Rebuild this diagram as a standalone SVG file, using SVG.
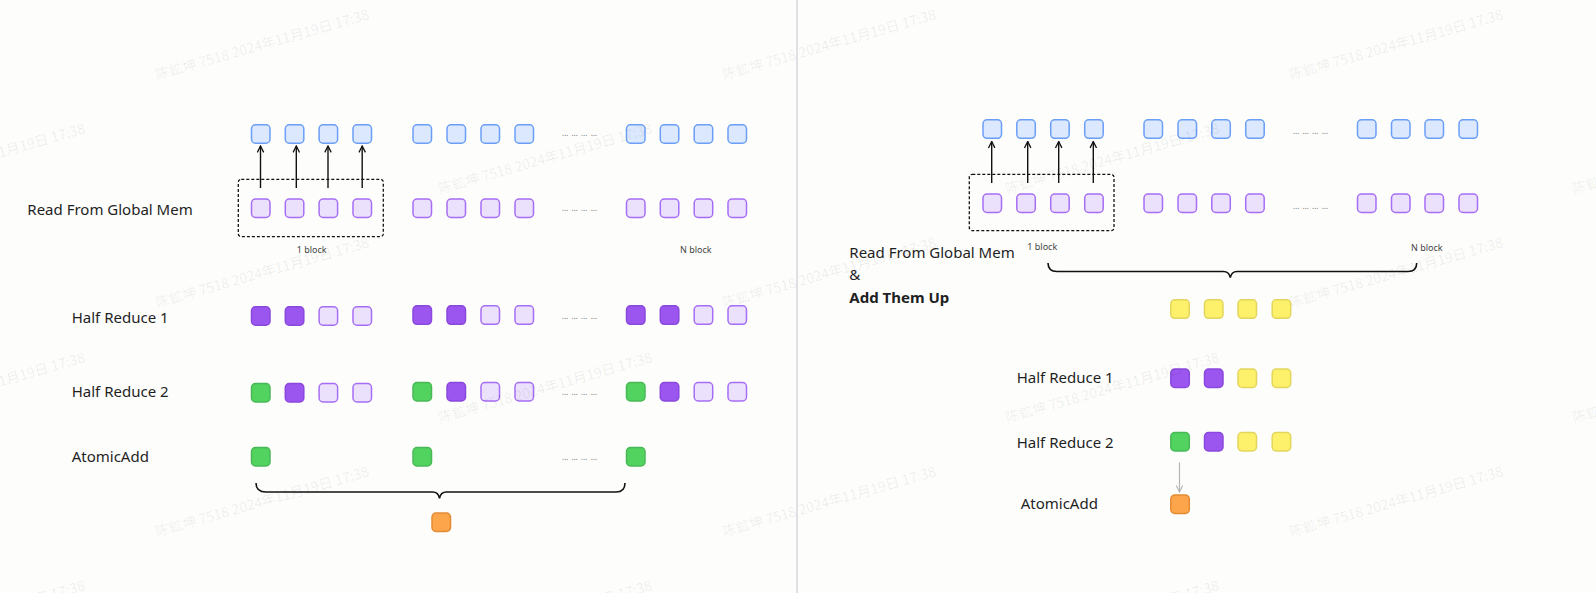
<svg xmlns="http://www.w3.org/2000/svg" width="1596" height="593" viewBox="0 0 1596 593">
<defs>
<style>
.bx{stroke-width:1.5}
.b{fill:#dce8fd;stroke:#6a9ef7}
.p{fill:#ebe1fc;stroke:#a66ef5}
.d{fill:#9a56ef;stroke:#8b48dc}
.g{fill:#52d25e;stroke:#49b957}
.o{fill:#fda54a;stroke:#e38a35}
.y{fill:#fdf16b;stroke:#e2d55d}
.lbl{font-family:"Noto Sans","Liberation Sans",sans-serif;font-size:15px;fill:#1f1f1f}
.bold{font-weight:bold}
.sm{font-family:"Noto Sans","Liberation Sans",sans-serif;font-size:9px;fill:#444}
.dots{font-family:"Noto Sans","Liberation Sans",sans-serif;font-size:8px;fill:#777}
.wm{font-family:"Noto Sans CJK SC","Noto Sans",sans-serif;font-size:14px;fill:#000;fill-opacity:0.07}
.dash{fill:none;stroke:#111;stroke-width:1.3;stroke-dasharray:3 2}
.ar{stroke:#111;stroke-width:1.4;fill:none}
.br{stroke:#111;stroke-width:1.6;fill:none}
</style>
<marker id="ah" viewBox="0 0 10 10" refX="9" refY="5" markerWidth="8" markerHeight="8" markerUnits="userSpaceOnUse" orient="auto"><path d="M1,1 L9,5 L1,9" fill="none" stroke="#111" stroke-width="1.6"/></marker>
<marker id="ahg" viewBox="0 0 10 10" refX="9" refY="5" markerWidth="8" markerHeight="8" markerUnits="userSpaceOnUse" orient="auto"><path d="M1,1 L9,5 L1,9" fill="none" stroke="#b5b5b5" stroke-width="1.4"/></marker>
</defs>
<rect x="0" y="0" width="1596" height="593" fill="#fdfdfc"/>
<line x1="797" y1="0" x2="797" y2="593" stroke="#c4c4cc" stroke-width="1"/>

<g id="labels">
<text class="lbl" x="27.3" y="215">Read From Global Mem</text>
<text class="lbl" x="71.7" y="322.7">Half Reduce 1</text>
<text class="lbl" x="71.7" y="397.3">Half Reduce 2</text>
<text class="lbl" x="71.7" y="461.7">AtomicAdd</text>
<text class="sm" x="296.7" y="253">1 block</text>
<text class="sm" x="680" y="253">N block</text>
<text class="lbl" x="849.3" y="258">Read From Global Mem</text>
<text class="lbl" x="849.3" y="280">&amp;</text>
<text class="lbl bold" x="849.3" y="302.5">Add Them Up</text>
<text class="sm" x="1027.3" y="250">1 block</text>
<text class="sm" x="1411" y="251">N block</text>
<text class="lbl" x="1016.7" y="383.3">Half Reduce 1</text>
<text class="lbl" x="1016.7" y="448.3">Half Reduce 2</text>
<text class="lbl" x="1020.7" y="509.3">AtomicAdd</text>
</g>

<g id="dots">
<text class="dots" x="562" y="136" textLength="35" lengthAdjust="spacing">… … … …</text>
<text class="dots" x="562" y="210.5" textLength="35" lengthAdjust="spacing">… … … …</text>
<text class="dots" x="562" y="318.5" textLength="35" lengthAdjust="spacing">… … … …</text>
<text class="dots" x="562" y="395" textLength="35" lengthAdjust="spacing">… … … …</text>
<text class="dots" x="562" y="459.5" textLength="35" lengthAdjust="spacing">… … … …</text>
<text class="dots" x="1293" y="134" textLength="35" lengthAdjust="spacing">… … … …</text>
<text class="dots" x="1293" y="208.5" textLength="35" lengthAdjust="spacing">… … … …</text>
</g>

<g id="left-block1-frame"><rect class="dash" x="238.3" y="179.3" width="145" height="57.4" rx="3"/></g>
<g id="right-block1-frame"><rect class="dash" x="969.3" y="174.3" width="144.7" height="56.4" rx="3"/></g>

<!-- Left: output row (blue) -->
<g id="L-out-1-1"><rect class="bx b" x="251.5" y="124.75" width="18.5" height="18.5" rx="4"/></g>
<g id="L-out-1-2"><rect class="bx b" x="285.3" y="124.75" width="18.5" height="18.5" rx="4"/></g>
<g id="L-out-1-3"><rect class="bx b" x="319.1" y="124.75" width="18.5" height="18.5" rx="4"/></g>
<g id="L-out-1-4"><rect class="bx b" x="353" y="124.75" width="18.5" height="18.5" rx="4"/></g>
<g id="L-out-2-1"><rect class="bx b" x="413" y="124.75" width="18.5" height="18.5" rx="4"/></g>
<g id="L-out-2-2"><rect class="bx b" x="447" y="124.75" width="18.5" height="18.5" rx="4"/></g>
<g id="L-out-2-3"><rect class="bx b" x="481" y="124.75" width="18.5" height="18.5" rx="4"/></g>
<g id="L-out-2-4"><rect class="bx b" x="515" y="124.75" width="18.5" height="18.5" rx="4"/></g>
<g id="L-out-N-1"><rect class="bx b" x="626.5" y="124.75" width="18.5" height="18.5" rx="4"/></g>
<g id="L-out-N-2"><rect class="bx b" x="660.3" y="124.75" width="18.5" height="18.5" rx="4"/></g>
<g id="L-out-N-3"><rect class="bx b" x="694.2" y="124.75" width="18.5" height="18.5" rx="4"/></g>
<g id="L-out-N-4"><rect class="bx b" x="728" y="124.75" width="18.5" height="18.5" rx="4"/></g>

<!-- Left: read row (light purple) -->
<g id="L-read-1-1"><rect class="bx p" x="251.5" y="199" width="18.5" height="18.5" rx="4"/></g>
<g id="L-read-1-2"><rect class="bx p" x="285.3" y="199" width="18.5" height="18.5" rx="4"/></g>
<g id="L-read-1-3"><rect class="bx p" x="319.1" y="199" width="18.5" height="18.5" rx="4"/></g>
<g id="L-read-1-4"><rect class="bx p" x="353" y="199" width="18.5" height="18.5" rx="4"/></g>
<g id="L-read-2-1"><rect class="bx p" x="413" y="199" width="18.5" height="18.5" rx="4"/></g>
<g id="L-read-2-2"><rect class="bx p" x="447" y="199" width="18.5" height="18.5" rx="4"/></g>
<g id="L-read-2-3"><rect class="bx p" x="481" y="199" width="18.5" height="18.5" rx="4"/></g>
<g id="L-read-2-4"><rect class="bx p" x="515" y="199" width="18.5" height="18.5" rx="4"/></g>
<g id="L-read-N-1"><rect class="bx p" x="626.5" y="199" width="18.5" height="18.5" rx="4"/></g>
<g id="L-read-N-2"><rect class="bx p" x="660.3" y="199" width="18.5" height="18.5" rx="4"/></g>
<g id="L-read-N-3"><rect class="bx p" x="694.2" y="199" width="18.5" height="18.5" rx="4"/></g>
<g id="L-read-N-4"><rect class="bx p" x="728" y="199" width="18.5" height="18.5" rx="4"/></g>

<!-- Left: half reduce 1 -->
<g id="L-hr1-1-1"><rect class="bx d" x="251.5" y="306.75" width="18.5" height="18.5" rx="4"/></g>
<g id="L-hr1-1-2"><rect class="bx d" x="285.3" y="306.75" width="18.5" height="18.5" rx="4"/></g>
<g id="L-hr1-1-3"><rect class="bx p" x="319.1" y="306.75" width="18.5" height="18.5" rx="4"/></g>
<g id="L-hr1-1-4"><rect class="bx p" x="353" y="306.75" width="18.5" height="18.5" rx="4"/></g>
<g id="L-hr1-2-1"><rect class="bx d" x="413" y="305.8" width="18.5" height="18.5" rx="4"/></g>
<g id="L-hr1-2-2"><rect class="bx d" x="447" y="305.8" width="18.5" height="18.5" rx="4"/></g>
<g id="L-hr1-2-3"><rect class="bx p" x="481" y="305.8" width="18.5" height="18.5" rx="4"/></g>
<g id="L-hr1-2-4"><rect class="bx p" x="515" y="305.8" width="18.5" height="18.5" rx="4"/></g>
<g id="L-hr1-N-1"><rect class="bx d" x="626.5" y="305.8" width="18.5" height="18.5" rx="4"/></g>
<g id="L-hr1-N-2"><rect class="bx d" x="660.3" y="305.8" width="18.5" height="18.5" rx="4"/></g>
<g id="L-hr1-N-3"><rect class="bx p" x="694.2" y="305.8" width="18.5" height="18.5" rx="4"/></g>
<g id="L-hr1-N-4"><rect class="bx p" x="728" y="305.8" width="18.5" height="18.5" rx="4"/></g>

<!-- Left: half reduce 2 -->
<g id="L-hr2-1-1"><rect class="bx g" x="251.5" y="383.5" width="18.5" height="18.5" rx="4"/></g>
<g id="L-hr2-1-2"><rect class="bx d" x="285.3" y="383.5" width="18.5" height="18.5" rx="4"/></g>
<g id="L-hr2-1-3"><rect class="bx p" x="319.1" y="383.5" width="18.5" height="18.5" rx="4"/></g>
<g id="L-hr2-1-4"><rect class="bx p" x="353" y="383.5" width="18.5" height="18.5" rx="4"/></g>
<g id="L-hr2-2-1"><rect class="bx g" x="413" y="382.5" width="18.5" height="18.5" rx="4"/></g>
<g id="L-hr2-2-2"><rect class="bx d" x="447" y="382.5" width="18.5" height="18.5" rx="4"/></g>
<g id="L-hr2-2-3"><rect class="bx p" x="481" y="382.5" width="18.5" height="18.5" rx="4"/></g>
<g id="L-hr2-2-4"><rect class="bx p" x="515" y="382.5" width="18.5" height="18.5" rx="4"/></g>
<g id="L-hr2-N-1"><rect class="bx g" x="626.5" y="382.5" width="18.5" height="18.5" rx="4"/></g>
<g id="L-hr2-N-2"><rect class="bx d" x="660.3" y="382.5" width="18.5" height="18.5" rx="4"/></g>
<g id="L-hr2-N-3"><rect class="bx p" x="694.2" y="382.5" width="18.5" height="18.5" rx="4"/></g>
<g id="L-hr2-N-4"><rect class="bx p" x="728" y="382.5" width="18.5" height="18.5" rx="4"/></g>

<!-- Left: atomic add -->
<g id="L-aa-1"><rect class="bx g" x="251.5" y="447.5" width="18.5" height="18.5" rx="4"/></g>
<g id="L-aa-2"><rect class="bx g" x="413" y="447.5" width="18.5" height="18.5" rx="4"/></g>
<g id="L-aa-N"><rect class="bx g" x="626.5" y="447.5" width="18.5" height="18.5" rx="4"/></g>
<g id="L-result"><rect class="bx o" x="432" y="513" width="18.5" height="18.5" rx="4"/></g>

<!-- Right: output row -->
<g id="R-out-1-1"><rect class="bx b" x="983" y="119.8" width="18.5" height="18.5" rx="4"/></g>
<g id="R-out-1-2"><rect class="bx b" x="1016.8" y="119.8" width="18.5" height="18.5" rx="4"/></g>
<g id="R-out-1-3"><rect class="bx b" x="1050.7" y="119.8" width="18.5" height="18.5" rx="4"/></g>
<g id="R-out-1-4"><rect class="bx b" x="1084.7" y="119.8" width="18.5" height="18.5" rx="4"/></g>
<g id="R-out-2-1"><rect class="bx b" x="1144" y="119.8" width="18.5" height="18.5" rx="4"/></g>
<g id="R-out-2-2"><rect class="bx b" x="1178" y="119.8" width="18.5" height="18.5" rx="4"/></g>
<g id="R-out-2-3"><rect class="bx b" x="1211.8" y="119.8" width="18.5" height="18.5" rx="4"/></g>
<g id="R-out-2-4"><rect class="bx b" x="1245.7" y="119.8" width="18.5" height="18.5" rx="4"/></g>
<g id="R-out-N-1"><rect class="bx b" x="1357.5" y="119.8" width="18.5" height="18.5" rx="4"/></g>
<g id="R-out-N-2"><rect class="bx b" x="1391.5" y="119.8" width="18.5" height="18.5" rx="4"/></g>
<g id="R-out-N-3"><rect class="bx b" x="1425" y="119.8" width="18.5" height="18.5" rx="4"/></g>
<g id="R-out-N-4"><rect class="bx b" x="1459" y="119.8" width="18.5" height="18.5" rx="4"/></g>

<!-- Right: read row -->
<g id="R-read-1-1"><rect class="bx p" x="983" y="194" width="18.5" height="18.5" rx="4"/></g>
<g id="R-read-1-2"><rect class="bx p" x="1016.8" y="194" width="18.5" height="18.5" rx="4"/></g>
<g id="R-read-1-3"><rect class="bx p" x="1050.7" y="194" width="18.5" height="18.5" rx="4"/></g>
<g id="R-read-1-4"><rect class="bx p" x="1084.7" y="194" width="18.5" height="18.5" rx="4"/></g>
<g id="R-read-2-1"><rect class="bx p" x="1144" y="194" width="18.5" height="18.5" rx="4"/></g>
<g id="R-read-2-2"><rect class="bx p" x="1178" y="194" width="18.5" height="18.5" rx="4"/></g>
<g id="R-read-2-3"><rect class="bx p" x="1211.8" y="194" width="18.5" height="18.5" rx="4"/></g>
<g id="R-read-2-4"><rect class="bx p" x="1245.7" y="194" width="18.5" height="18.5" rx="4"/></g>
<g id="R-read-N-1"><rect class="bx p" x="1357.5" y="194" width="18.5" height="18.5" rx="4"/></g>
<g id="R-read-N-2"><rect class="bx p" x="1391.5" y="194" width="18.5" height="18.5" rx="4"/></g>
<g id="R-read-N-3"><rect class="bx p" x="1425" y="194" width="18.5" height="18.5" rx="4"/></g>
<g id="R-read-N-4"><rect class="bx p" x="1459" y="194" width="18.5" height="18.5" rx="4"/></g>

<!-- Right: summed row -->
<g id="R-sum-1"><rect class="bx y" x="1170.8" y="299.8" width="18.5" height="18.5" rx="4"/></g>
<g id="R-sum-2"><rect class="bx y" x="1204.5" y="299.8" width="18.5" height="18.5" rx="4"/></g>
<g id="R-sum-3"><rect class="bx y" x="1238" y="299.8" width="18.5" height="18.5" rx="4"/></g>
<g id="R-sum-4"><rect class="bx y" x="1272.2" y="299.8" width="18.5" height="18.5" rx="4"/></g>

<g id="R-hr1-1"><rect class="bx d" x="1170.8" y="369" width="18.5" height="18.5" rx="4"/></g>
<g id="R-hr1-2"><rect class="bx d" x="1204.5" y="369" width="18.5" height="18.5" rx="4"/></g>
<g id="R-hr1-3"><rect class="bx y" x="1238" y="369" width="18.5" height="18.5" rx="4"/></g>
<g id="R-hr1-4"><rect class="bx y" x="1272.2" y="369" width="18.5" height="18.5" rx="4"/></g>

<g id="R-hr2-1"><rect class="bx g" x="1170.8" y="432.5" width="18.5" height="18.5" rx="4"/></g>
<g id="R-hr2-2"><rect class="bx d" x="1204.5" y="432.5" width="18.5" height="18.5" rx="4"/></g>
<g id="R-hr2-3"><rect class="bx y" x="1238" y="432.5" width="18.5" height="18.5" rx="4"/></g>
<g id="R-hr2-4"><rect class="bx y" x="1272.2" y="432.5" width="18.5" height="18.5" rx="4"/></g>

<g id="R-result"><rect class="bx o" x="1170.8" y="495" width="18.5" height="18.5" rx="4"/></g>

<g id="connectors">
<line class="ar" x1="260.5" y1="188" x2="260.5" y2="146" marker-end="url(#ah)"/>
<line class="ar" x1="296.3" y1="188" x2="296.3" y2="146" marker-end="url(#ah)"/>
<line class="ar" x1="328" y1="188" x2="328" y2="146" marker-end="url(#ah)"/>
<line class="ar" x1="362.2" y1="188" x2="362.2" y2="146" marker-end="url(#ah)"/>
<line class="ar" x1="991.7" y1="183" x2="991.7" y2="141.5" marker-end="url(#ah)"/>
<line class="ar" x1="1027.7" y1="183" x2="1027.7" y2="141.5" marker-end="url(#ah)"/>
<line class="ar" x1="1058.7" y1="183" x2="1058.7" y2="141.5" marker-end="url(#ah)"/>
<line class="ar" x1="1093.3" y1="183" x2="1093.3" y2="141.5" marker-end="url(#ah)"/>
<line x1="1179.5" y1="462.5" x2="1179.5" y2="492" stroke="#b5b5b5" stroke-width="1.2" marker-end="url(#ahg)"/>
<path class="br" d="M256,483 Q256,492 266,492 L432.5,492 Q438.5,492 439.5,498.5 Q440.5,492 446.5,492 L616,492 Q625,492 625,483"/>
<path class="br" d="M1048,263 Q1048,271.5 1057,271.5 L1223.5,271.5 Q1229,271.5 1230.3,277.5 Q1231.6,271.5 1237,271.5 L1408,271.5 Q1416.7,271.5 1416.7,263"/>
</g>

<g id="watermark">
<text class="wm" transform="translate(157,80) rotate(-16)">陈鉱坤 7518 2024年11月19日 17:38</text>
<text class="wm" transform="translate(724,80) rotate(-16)">陈鉱坤 7518 2024年11月19日 17:38</text>
<text class="wm" transform="translate(1291,80) rotate(-16)">陈鉱坤 7518 2024年11月19日 17:38</text>
<text class="wm" transform="translate(-127,194) rotate(-16)">陈鉱坤 7518 2024年11月19日 17:38</text>
<text class="wm" transform="translate(440,194) rotate(-16)">陈鉱坤 7518 2024年11月19日 17:38</text>
<text class="wm" transform="translate(1007,194) rotate(-16)">陈鉱坤 7518 2024年11月19日 17:38</text>
<text class="wm" transform="translate(1574,194) rotate(-16)">陈鉱坤 7518 2024年11月19日 17:38</text>
<text class="wm" transform="translate(157,308) rotate(-16)">陈鉱坤 7518 2024年11月19日 17:38</text>
<text class="wm" transform="translate(724,308) rotate(-16)">陈鉱坤 7518 2024年11月19日 17:38</text>
<text class="wm" transform="translate(1291,308) rotate(-16)">陈鉱坤 7518 2024年11月19日 17:38</text>
<text class="wm" transform="translate(-127,423) rotate(-16)">陈鉱坤 7518 2024年11月19日 17:38</text>
<text class="wm" transform="translate(440,423) rotate(-16)">陈鉱坤 7518 2024年11月19日 17:38</text>
<text class="wm" transform="translate(1007,423) rotate(-16)">陈鉱坤 7518 2024年11月19日 17:38</text>
<text class="wm" transform="translate(1574,423) rotate(-16)">陈鉱坤 7518 2024年11月19日 17:38</text>
<text class="wm" transform="translate(157,537) rotate(-16)">陈鉱坤 7518 2024年11月19日 17:38</text>
<text class="wm" transform="translate(724,537) rotate(-16)">陈鉱坤 7518 2024年11月19日 17:38</text>
<text class="wm" transform="translate(1291,537) rotate(-16)">陈鉱坤 7518 2024年11月19日 17:38</text>
<text class="wm" transform="translate(-127,651) rotate(-16)">陈鉱坤 7518 2024年11月19日 17:38</text>
<text class="wm" transform="translate(440,651) rotate(-16)">陈鉱坤 7518 2024年11月19日 17:38</text>
<text class="wm" transform="translate(1007,651) rotate(-16)">陈鉱坤 7518 2024年11月19日 17:38</text>
<text class="wm" transform="translate(1574,651) rotate(-16)">陈鉱坤 7518 2024年11月19日 17:38</text>
</g>
</svg>
